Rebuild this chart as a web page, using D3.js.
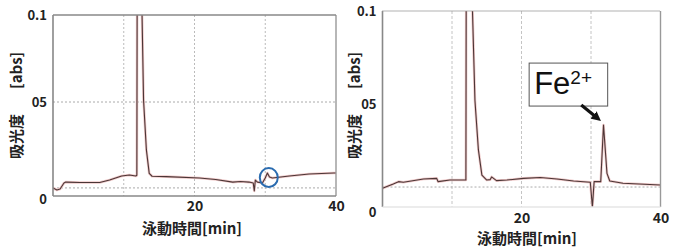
<!DOCTYPE html>
<html>
<head>
<meta charset="utf-8">
<script src="https://cdn.jsdelivr.net/npm/d3@7"></script>
<style>
  html, body { margin: 0; padding: 0; background: #fff; }
  svg { display: block; }
</style>
</head>
<body>
<div id="chart"></div>
<script>
"use strict";

// left electropherogram (time [min], absorbance [abs])
var leftTime = [0, 0.55, 1.0, 1.55, 1.8, 3.8, 6.6, 8.0, 9.7, 10.8, 11.7, 11.85, 11.9, 12.5, 12.8, 13.2, 13.6, 14.0,
    16.0, 20.7, 23.0, 25.4, 26.5, 27.7, 28.3, 28.45, 28.6, 28.9, 29.6, 30.0, 30.3, 30.6, 31.0, 33.4, 36.2, 39.7, 40];
var leftAbs = [0.0043, 0.0032, 0.0037, 0.0069, 0.0074, 0.0072, 0.0072, 0.0085, 0.0106, 0.0112, 0.0106, 0.011, 0.12, 0.12, 0.051, 0.0245, 0.012, 0.0105,
    0.0103, 0.0096, 0.0088, 0.0074, 0.0077, 0.0074, 0.0069, 0.0027, 0.0085, 0.0074, 0.0069, 0.0096, 0.0122, 0.0101, 0.0096, 0.0106, 0.0117, 0.0122, 0.0122];

// right electropherogram
var rightTime = [0, 1.55, 2.3, 3.0, 5.9, 7.8, 8.0, 9.7, 12.0, 12.05, 12.8, 13.3, 13.8, 14.3, 15.0, 15.5, 15.7, 16.4,
    17.9, 20.3, 22.7, 25.1, 27.5, 29.9, 30.2, 30.45, 31.4, 31.8, 32.3, 32.7, 34.6, 40];
var rightAbs = [0.0091, 0.0112, 0.0123, 0.012, 0.0136, 0.0139, 0.0123, 0.0131, 0.0131, 0.12, 0.12, 0.052, 0.0277, 0.0155, 0.0131, 0.0133, 0.0146, 0.0128,
    0.0131, 0.0139, 0.0143, 0.0136, 0.0126, 0.012, 0.0, 0.0123, 0.0123, 0.0398, 0.0163, 0.0126, 0.0115, 0.0107];

// axes
var yTicks = [0, 0.05, 0.1];
var yTickLabels = ["0", "05", "0.1"];
var xTicks = [20, 40];
var xTickLabels = ["20", "40"];
var xGrid = [10, 20, 30];
var leftBaseline = [0.0043];
var rightBaseline = [0.0097];

var yTitle = "吸光度";
var yUnit = "[abs]";
var xTitle = "泳動時間[min]";

// markers
var leftMarkTime = [30.5];
var leftMarkAbs = [0.0098];
var ionLabel = "Fe";
var ionCharge = "2+";
var arrowTime = [28.6, 30.9];
var arrowAbs = [0.0495, 0.0432];

var W = 674, H = 249;
var font = "'Noto Sans CJK JP', 'Noto Sans', sans-serif";

var svg = d3.select("#chart").append("svg")
    .attr("width", W)
    .attr("height", H);

var defs = svg.append("defs");
defs.append("marker")
    .attr("id", "arrowhead")
    .attr("viewBox", "0 0 10 10")
    .attr("refX", 5).attr("refY", 5)
    .attr("markerWidth", 3).attr("markerHeight", 3)
    .attr("orient", "auto")
    .append("path")
    .attr("d", "M0,0 L10,5 L0,10 z")
    .attr("fill", "#111");

function drawPanel(p) {
    var x = d3.scaleLinear().domain([0, 40]).range(p.xRange);
    var y = d3.scaleLinear().domain([0, 0.05, 0.1]).range(p.yRange);

    var g = svg.append("g");
    var x0 = p.xRange[0], x1 = p.plotRight;
    var yTop = p.yRange[2], yBot = p.yRange[0];

    // clip
    defs.append("clipPath").attr("id", p.id + "-clip")
        .append("rect")
        .attr("x", x0).attr("y", yTop)
        .attr("width", x1 - x0).attr("height", yBot - yTop);

    // vertical grid
    g.selectAll(".vgrid")
        .data(xGrid)
        .join("line")
        .attr("x1", d => x(d)).attr("x2", d => x(d))
        .attr("y1", yTop).attr("y2", yBot)
        .attr("stroke", p.gridColor)
        .attr("stroke-width", 1)
        .attr("stroke-dasharray", p.gridDash);

    // horizontal grid
    g.selectAll(".hgrid")
        .data(p.hGrid)
        .join("line")
        .attr("x1", x0).attr("x2", x1)
        .attr("y1", d => y(d)).attr("y2", d => y(d))
        .attr("stroke", "#aaa")
        .attr("stroke-width", 1)
        .attr("stroke-dasharray", "2,2");

    // trace
    var pts = p.time.map((t, i) => [t, p.abs[i]]);
    var line = d3.line().x(d => x(d[0])).y(d => y(d[1]));
    var trace = g.append("g").attr("clip-path", "url(#" + p.id + "-clip)");
    trace.append("path")
        .datum(pts)
        .attr("fill", "none")
        .attr("stroke", "#efc9c9")
        .attr("stroke-width", 2.6)
        .attr("stroke-linejoin", "round")
        .attr("d", line);
    trace.append("path")
        .datum(pts)
        .attr("fill", "none")
        .attr("stroke", "#4c3636")
        .attr("stroke-width", 1.1)
        .attr("stroke-linejoin", "round")
        .attr("d", line);

    // frame
    g.append("line")
        .attr("x1", x0).attr("x2", x0).attr("y1", yTop).attr("y2", yBot)
        .attr("stroke", "#888").attr("stroke-width", 1.6);
    g.append("line")
        .attr("x1", x1).attr("x2", x1).attr("y1", yTop).attr("y2", yBot)
        .attr("stroke", "#999").attr("stroke-width", 1.4);
    g.append("line")
        .attr("x1", x0).attr("x2", x1).attr("y1", yTop).attr("y2", yTop)
        .attr("stroke", p.topColor).attr("stroke-width", p.topWidth)
        .attr("stroke-dasharray", p.topDash);
    g.append("line")
        .attr("x1", x0).attr("x2", x1).attr("y1", yBot).attr("y2", yBot)
        .attr("stroke", p.bottomColor).attr("stroke-width", 1.4);

    // y axis
    var yAxis = g.append("g")
        .attr("transform", `translate(${x0},0)`)
        .call(d3.axisLeft(y).tickValues(yTicks)
            .tickFormat((d, i) => yTickLabels[i])
            .tickSize(0).tickPadding(6));
    yAxis.select(".domain").remove();
    yAxis.selectAll("text")
        .attr("font-family", font)
        .attr("font-weight", "bold")
        .attr("font-size", 13)
        .attr("fill", "#222")
        .attr("dy", (d) => d === 0 ? p.zeroDy : "0.32em");

    // x axis
    var xAxis = g.append("g")
        .attr("transform", `translate(0,${yBot})`)
        .call(d3.axisBottom(x).tickValues(xTicks)
            .tickFormat((d, i) => xTickLabels[i])
            .tickSize(0).tickPadding(p.xPad));
    xAxis.select(".domain").remove();
    xAxis.selectAll("text")
        .attr("font-family", font)
        .attr("font-weight", "bold")
        .attr("font-size", 14)
        .attr("fill", "#222");

    // axis titles
    var yt = g.append("text")
        .attr("transform", `translate(${p.yTitleX},159) rotate(-90)`)
        .attr("font-family", font)
        .attr("font-weight", "bold")
        .attr("font-size", 15)
        .attr("fill", "#222")
        .attr("dy", "0.35em");
    yt.append("tspan").text(yTitle);
    yt.append("tspan").attr("dx", 25).text(yUnit);

    g.append("text")
        .attr("x", p.xTitleX).attr("y", p.xTitleY)
        .attr("text-anchor", "middle")
        .attr("dy", "0.35em")
        .attr("font-family", font)
        .attr("font-weight", "bold")
        .attr("font-size", 15)
        .attr("fill", "#222")
        .text(xTitle);

    return { x: x, y: y, g: g };
}

var left = drawPanel({
    id: "left", time: leftTime, abs: leftAbs,
    xRange: [53, 336], plotRight: 336, yRange: [196, 102, 15],
    hGrid: [0.05].concat(leftBaseline),
    gridColor: "#bbb", gridDash: "2,2",
    topColor: "#888", topWidth: 1.6, topDash: null,
    bottomColor: "#888", zeroDy: "0.6em", xPad: 5,
    yTitleX: 17, xTitleX: 192, xTitleY: 229
});

var right = drawPanel({
    id: "right", time: rightTime, abs: rightAbs,
    xRange: [382.5, 660.5], plotRight: 660.5, yRange: [207, 104, 11],
    hGrid: rightBaseline,
    gridColor: "#c4c4c4", gridDash: "3,2",
    topColor: "#999", topWidth: 1.6, topDash: "1,1",
    bottomColor: "#e6e6e6", zeroDy: "0.7em", xPad: 6,
    yTitleX: 355, xTitleX: 527, xTitleY: 239
});

// blue circle marking the small peak
left.g.selectAll(".mark")
    .data(leftMarkTime)
    .join("ellipse")
    .attr("cx", (d, i) => left.x(d))
    .attr("cy", (d, i) => left.y(leftMarkAbs[i]))
    .attr("rx", 9).attr("ry", 9.5)
    .attr("fill", "none")
    .attr("stroke", "#2b6cb0")
    .attr("stroke-width", 2);

// Fe2+ label box
var bx0 = right.x(21.1), bx1 = right.x(32.4);
var by0 = right.y(0.072), by1 = right.y(0.049);
right.g.append("rect")
    .attr("x", bx0).attr("y", by0)
    .attr("width", bx1 - bx0).attr("height", by1 - by0)
    .attr("fill", "#fff")
    .attr("stroke", "#555")
    .attr("stroke-width", 1);
var lbl = right.g.append("text")
    .attr("x", bx0 + 5).attr("y", by1 - 12)
    .attr("font-family", "'Liberation Sans', Arial, sans-serif")
    .attr("font-size", 31)
    .attr("fill", "#111");
lbl.append("tspan").text(ionLabel);
lbl.append("tspan").attr("dy", -10).attr("font-size", 19).text(ionCharge);

// arrow
right.g.append("line")
    .attr("x1", right.x(arrowTime[0])).attr("y1", right.y(arrowAbs[0]))
    .attr("x2", right.x(arrowTime[1])).attr("y2", right.y(arrowAbs[1]))
    .attr("stroke", "#111")
    .attr("stroke-width", 3.2)
    .attr("marker-end", "url(#arrowhead)");
</script>
</body>
</html>
